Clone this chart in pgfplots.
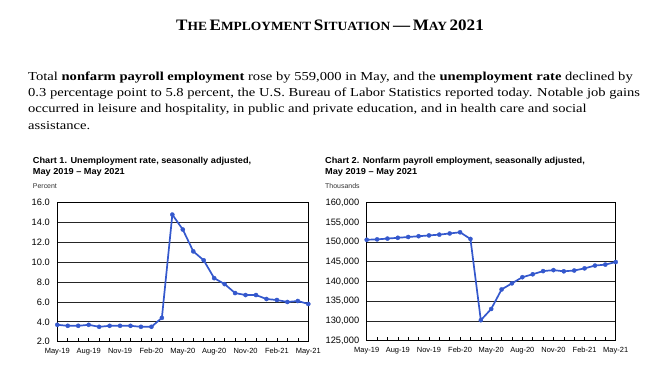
\documentclass[border=0pt]{standalone}
\usepackage{fontspec}
\setmainfont{Liberation Serif}
\newfontfamily\arial{Liberation Sans}
\usepackage{graphicx}
\usepackage{pgfplots}
\pgfplotsset{compat=1.18}
\definecolor{lineblue}{RGB}{52,88,205}
\newcommand\BC[1]{{\fontsize{16}{16}\selectfont #1}}
\newcommand\SC[1]{{\fontsize{12.6}{12.6}\selectfont #1}}
\newcommand\PX[1]{\scalebox{1.2}[1]{#1}}
\newcommand\CX[1]{\scalebox{1.06}[1]{#1}}
\pgfplotsset{bls/.style={
  scale only axis, xmin=0, xmax=24,
  xtick={0,3,...,24}, minor xtick={0,...,24},
  xticklabels={May-19,Aug-19,Nov-19,Feb-20,May-20,Aug-20,Nov-20,Feb-21,May-21},
  xtick pos=lower, tick align=inside,
  major tick length=4bp, minor tick length=4bp,
  ytick style={draw=none},
  ymajorgrids, grid style={black!85, line width=0.9bp},
  axis line style={black, line width=0.9bp},
  tick style={black, line width=0.6bp},
  xticklabel style={font=\arial\fontsize{7.5}{8}\selectfont, yshift=-3bp},
  yticklabel style={font=\arial\fontsize{9.3}{10}\selectfont, xshift=-4bp},
  /pgf/number format/assume math mode=true,
}}
\pgfplotstableread{
x y
0 3.7
1 3.6
2 3.6
3 3.7
4 3.5
5 3.6
6 3.6
7 3.6
8 3.5
9 3.5
10 4.4
11 14.8
12 13.3
13 11.1
14 10.2
15 8.4
16 7.8
17 6.9
18 6.7
19 6.7
20 6.3
21 6.2
22 6.0
23 6.1
24 5.8
}\unemp
\pgfplotstableread{
x y
0 150600
1 150700
2 150900
3 151100
4 151300
5 151500
6 151700
7 151900
8 152200
9 152500
10 150800
11 130200
12 133050
13 138000
14 139550
15 141100
16 141850
17 142650
18 142900
19 142600
20 142800
21 143350
22 144050
23 144300
24 144950
}\payroll
\begin{document}
\begin{tikzpicture}
\useasboundingbox (0,0) rectangle (658bp,376bp);
\fill[white] (0,0) rectangle (658bp,376bp);
% title
\node[anchor=base, inner sep=0] at (330bp,345bp) {\scalebox{1.07}[1]{\bfseries \BC{T}\SC{HE} \BC{E}\SC{MPLOYMENT} \BC{S}\SC{ITUATION} \BC{---} \BC{M}\SC{AY} \BC{2021}}};
% paragraph
\begin{scope}[every node/.style={anchor=base west, inner sep=0, font=\fontsize{12.2}{14}\selectfont}]
\node at (28bp,295bp) {\PX{Total \textbf{nonfarm payroll employment} rose by 559,000 in May, and the \textbf{unemployment rate} declined by}};
\node at (28bp,279bp) {\PX{0.3 percentage point to 5.8 percent, the U.S. Bureau of Labor Statistics reported today. Notable job gains}};
\node at (28bp,263bp) {\PX{occurred in leisure and hospitality, in public and private education, and in health care and social}};
\node at (28bp,246bp) {\PX{assistance.}};
\end{scope}
% chart titles
\begin{scope}[every node/.style={anchor=base west, inner sep=0, font=\arial\bfseries\fontsize{8.7}{10}\selectfont}]
\node at (32.7bp,212bp) {\CX{Chart 1. Unemployment rate, seasonally adjusted,}};
\node at (32.7bp,201bp) {\CX{May 2019 – May 2021}};
\node at (325bp,212bp) {\CX{Chart 2. Nonfarm payroll employment, seasonally adjusted,}};
\node at (325bp,201bp) {\CX{May 2019 – May 2021}};
\end{scope}
\node[anchor=base west, inner sep=0, font=\arial\fontsize{7}{8}\selectfont, text=black!80] at (32.7bp,187bp) {Percent};
\node[anchor=base west, inner sep=0, font=\arial\fontsize{7}{8}\selectfont, text=black!80] at (325bp,187bp) {Thousands};
% chart 1
\begin{axis}[bls, at={(57.3bp,34.3bp)}, anchor=south west, width=251bp, height=139bp,
  ymin=2, ymax=16, ytick={2,4,...,16},
  yticklabel style={/pgf/number format/.cd, fixed, fixed zerofill, precision=1}]
\addplot[lineblue, line width=1.7bp, mark=*, mark size=2.1bp, mark options={fill=lineblue, draw=lineblue, line width=0.3bp}] table[x=x,y=y] {\unemp};
\end{axis}
% chart 2
\begin{axis}[bls, at={(366.7bp,35.3bp)}, anchor=south west, width=249bp, height=138bp,
  ymin=125000, ymax=160000, ytick={125000,130000,...,160000},
  scaled y ticks=false,
  yticklabel style={/pgf/number format/.cd, fixed, precision=0, 1000 sep={,}}]
\addplot[lineblue, line width=1.7bp, mark=*, mark size=2.1bp, mark options={fill=lineblue, draw=lineblue, line width=0.3bp}] table[x=x,y=y] {\payroll};
\end{axis}
\end{tikzpicture}
\end{document}
